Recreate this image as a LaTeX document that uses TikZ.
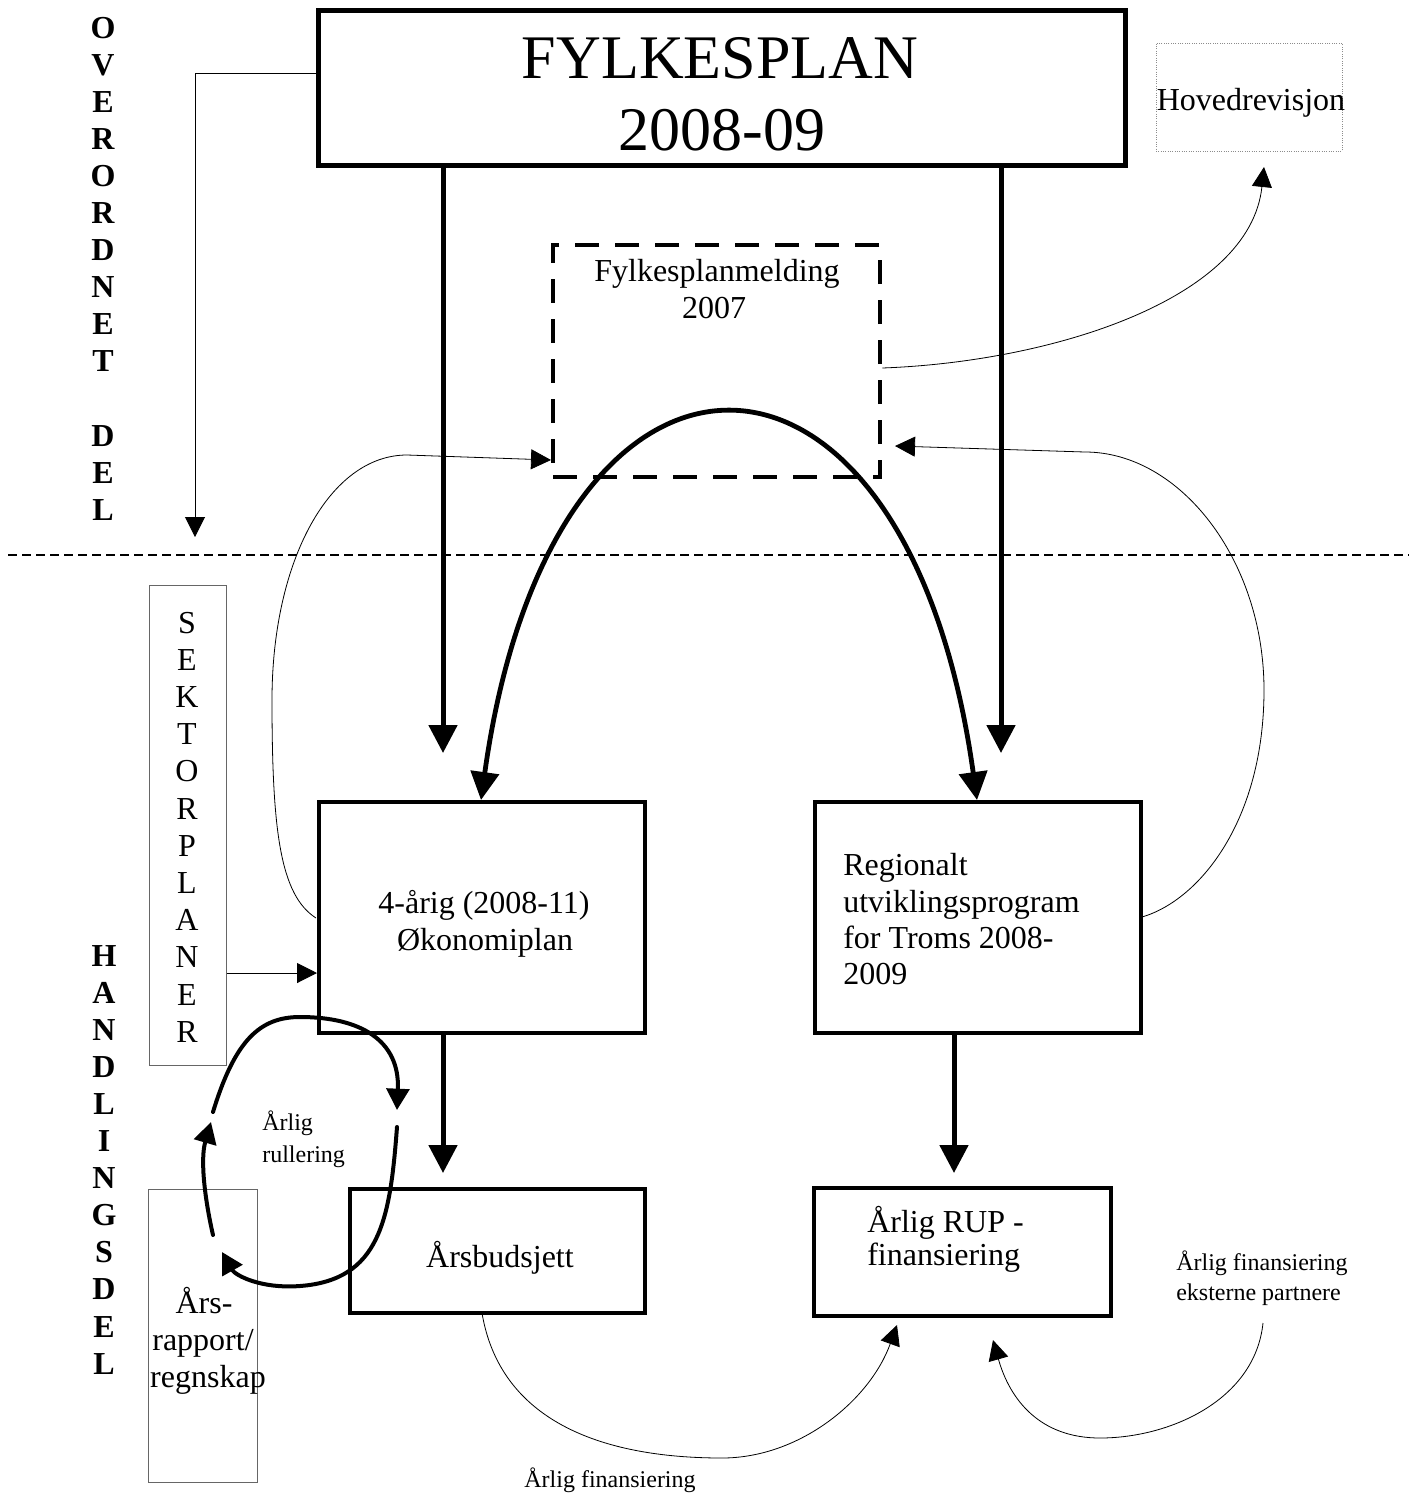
\documentclass[tikz,border=0pt]{standalone}
\usepackage{fontspec}
\setmainfont{Liberation Serif}
\usetikzlibrary{arrows.meta,fit,calc}
\begin{document}
\begin{tikzpicture}[x=0.75pt,y=-0.75pt,
  frame/.style={draw,inner sep=0pt},
  fylkbox/.style={frame,line width=3.75pt},
  thickbox/.style={frame,line width=3pt},
  graybox/.style={frame,draw=black!60,line width=0.75pt},
  hovbox/.style={frame,draw=black!45,densely dotted,line width=0.75pt},
  dashbox/.style={frame,line width=3.4pt,dash pattern=on 18pt off 12pt},
  txt/.style={inner sep=0pt,font=\fontsize{24}{27.75}\selectfont},
  smalltxt/.style={inner sep=0pt,font=\fontsize{18}{24}\selectfont},
  bigtxt/.style={inner sep=0pt,font=\fontsize{46.5}{53}\selectfont},
  boldletter/.style={inner sep=0pt,font=\bfseries\fontsize{24}{28}\selectfont},
  bigarrow/.style={line width=3.75pt,-{Triangle[length=21pt,width=21pt]}},
  archarrow/.style={line width=3.6pt,{Triangle[length=21pt,width=21pt]}-{Triangle[length=21pt,width=21pt]}},
  thinarrow/.style={line width=0.75pt,-{Triangle[length=15pt,width=15pt]}},
  curvearrow/.style={line width=0.6pt,-{Triangle[length=15pt,width=15pt]}},
  loopline/.style={line width=3pt,line cap=round},
  looparrow/.style={loopline,-{Triangle[length=16pt,width=17pt]}},
  sepline/.style={line width=1.1pt,dash pattern=on 6.5pt off 4pt}
]
\useasboundingbox (0,0) rectangle (1409,1493);
\fill[white] (0,0) rectangle (1409,1493);

% ---------- boxes ----------
\node[fylkbox,fit={(318,10) (1125,165)}] (fylk) {};
\node[hovbox,fit={(1156,43) (1342,151)}] (hov) {};
\node[dashbox,fit={(553,245) (880,477)}] (fmel) {};
\node[thickbox,fit={(319,802) (645,1033)}] (okon) {};
\node[thickbox,fit={(815,802) (1141,1033)}] (rup) {};
\node[graybox,fit={(149,585) (226,1065)}] (sek) {};
\node[thickbox,fit={(350,1189) (645,1313)}] (aarsb) {};
\node[thickbox,fit={(814,1188) (1111,1316)}] (rupfin) {};
\node[graybox,fit={(148,1189) (257,1482)}] (aars) {};

% ---------- texts ----------
\node[bigtxt,anchor=base] (fylkt1) at (720,78) {FYLKESPLAN};
\node[bigtxt,anchor=base] (fylkt2) at (722,150) {2008-09};
\node[txt,anchor=base] (hovt) at (1251,110) {Hovedrevisjon};
\node[txt,anchor=base] (fmelt1) at (717,281) {Fylkesplanmelding};
\node[txt,anchor=base] (fmelt2) at (714,318) {2007};
\node[txt,anchor=base] (okont1) at (484,913) {4-årig (2008-11)};
\node[txt,anchor=base] (okont2) at (485,950) {Økonomiplan};
\node[txt,anchor=base west] (rupt1) at (843,875) {Regionalt};
\node[txt,anchor=base west] (rupt2) at (843,912) {utviklingsprogram};
\node[txt,anchor=base west] (rupt3) at (843,948) {for Troms 2008-};
\node[txt,anchor=base west] (rupt4) at (843,984) {2009};
\node[txt,anchor=base] (aarsbt) at (500,1267) {Årsbudsjett};
\node[txt,anchor=base west] (rupfint1) at (867,1232) {Årlig RUP -};
\node[txt,anchor=base west] (rupfint2) at (867,1265) {finansiering};
\node[smalltxt,anchor=base west] (ekst1) at (1176,1270) {Årlig finansiering};
\node[smalltxt,anchor=base west] (ekst2) at (1176,1300) {eksterne partnere};
\node[smalltxt,anchor=base west] (rull1) at (262,1130) {Årlig};
\node[smalltxt,anchor=base west] (rull2) at (262,1162) {rullering};
\node[txt,anchor=base] (aarst1) at (204,1313) {Års-};
\node[txt,anchor=base] (aarst2) at (203,1350) {rapport/};
\node[txt,anchor=base] (aarst3) at (208,1387) {regnskap};
\node[smalltxt,anchor=base] (finbot) at (610,1487) {Årlig finansiering};

% vertical letter stacks
\foreach \l [count=\i from 0] in {O,V,E,R,O,R,D,N,E,T}
  \node[boldletter,anchor=base] (ov\i) at ({103},{38+37.1*\i}) {\l};
\foreach \l [count=\i from 11] in {D,E,L}
  \node[boldletter,anchor=base] (ov\i) at ({103},{38+37.1*\i}) {\l};
\foreach \l [count=\i from 0] in {H,A,N,D,L,I,N,G,S,D,E,L}
  \node[boldletter,anchor=base] (hd\i) at ({104},{966+37.1*\i}) {\l};
\foreach \l [count=\i from 0] in {S,E,K,T,O,R,P,L,A,N,E,R}
  \node[txt,anchor=base] (sk\i) at ({187},{633+37.2*\i}) {\l};

% ---------- separator ----------
\coordinate (sepL) at (8,555);
\coordinate (sepR) at (1409,555);
\draw[sepline] (sepL) -- (sepR);

% ---------- connectors ----------
% Fylkesplan -> down (left side)
\coordinate (fl0) at (195,73);
\coordinate (fl1) at (195,537);
\draw[thinarrow] (fylk.west |- fl0) -- (fl0) -- (fl1);

% bold straight arrows
\coordinate (tL) at (443,753);
\coordinate (tR) at (1001,753);
\draw[bigarrow] (fylk.south -| tL) -- (tL);
\draw[bigarrow] (fylk.south -| tR) -- (tR);
\coordinate (tL2) at (443,1173);
\coordinate (tR2) at (954,1173);
\draw[bigarrow] (okon.south -| tL2) -- (tL2);
\draw[bigarrow] (rup.south -| tR2) -- (tR2);

% big arch
\coordinate (aL) at (481,800);
\coordinate (aR) at (977,800);
\draw[archarrow] (aL) .. controls (552,289) and (906,289) .. (aR);

% sektorplaner -> okonomiplan
\coordinate (s0) at (226,973);
\draw[thinarrow] (sek.east |- s0) -- (okon.west |- s0);

% okonomiplan -> fylkesplanmelding
\coordinate (lc0) at (316,918);
\coordinate (lc1) at (272,700);
\coordinate (lc2) at (407,455);
\coordinate (lc3) at (551,460);
\draw[curvearrow] (lc0) .. controls (280,895) and (272,830) .. (lc1)
  .. controls (272,560) and (330,455) .. (lc2) -- (lc3);

% RUP -> fylkesplanmelding
\coordinate (rc0) at (1142,917);
\coordinate (rc1) at (1264,690);
\coordinate (rc2) at (1085,452);
\coordinate (rc3) at (895,446);
\draw[curvearrow] (rc0) .. controls (1200,900) and (1264,820) .. (rc1)
  .. controls (1264,560) and (1180,452) .. (rc2) -- (rc3);

% fylkesplanmelding -> hovedrevisjon
\coordinate (h0) at (880,368);
\coordinate (h1) at (1264,167);
\draw[curvearrow] (fmel.east |- h0) .. controls (1050,362) and (1250,300) .. (h1);

% arsbudsjett -> RUP finansiering
\coordinate (b0) at (482,1313);
\coordinate (b1) at (722,1458);
\coordinate (b2) at (897,1325);
\draw[curvearrow] (b0) .. controls (500,1420) and (600,1458) .. (b1)
  .. controls (800,1458) and (870,1400) .. (b2);

% eksterne partnere -> RUP finansiering
\coordinate (e0) at (1263,1323);
\coordinate (e1) at (1100,1438);
\coordinate (e2) at (993,1340);
\draw[curvearrow] (e0) .. controls (1255,1400) and (1170,1438) .. (e1)
  .. controls (1040,1438) and (1010,1400) .. (e2);

% arlig rullering loop
\coordinate (la0) at (213,1235);
\coordinate (la1) at (211,1122);
\draw[looparrow] (la0) .. controls (205,1200) and (200,1160) .. (la1);
\coordinate (lb0) at (213,1112);
\coordinate (lb1) at (300,1017);
\coordinate (lb2) at (397,1110);
\draw[looparrow] (lb0) .. controls (235,1040) and (260,1017) .. (lb1)
  .. controls (360,1017) and (400,1040) .. (lb2);
\coordinate (lc0b) at (397,1127);
\coordinate (lc1b) at (300,1286);
\coordinate (lc2b) at (222,1252);
\draw[looparrow] (lc0b) .. controls (390,1220) and (380,1280) .. (lc1b)
  .. controls (260,1289) and (235,1275) .. (lc2b);
\end{tikzpicture}
\end{document}
